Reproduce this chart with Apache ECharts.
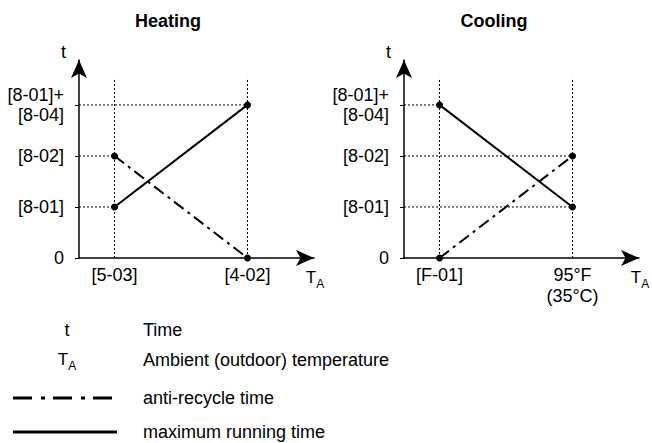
<!DOCTYPE html>
<html>
<head>
<meta charset="utf-8">
<script src="https://cdn.jsdelivr.net/npm/echarts@6/dist/echarts.min.js"></script>
<style>
  html, body { margin: 0; padding: 0; background: #fff; }
  #chart { width: 652px; height: 443px; }
</style>
</head>
<body>
<div id="chart"></div>
<script>
// Ambient temperature set points along each x axis
const heatingTemps = ['[5-03]', '[4-02]'];
const coolingTemps = ['[F-01]', '95°F\n(35°C)'];
// Time levels along the y axis (0, [8-01], [8-02], [8-01]+[8-04])
const timeLabels = ['0', '[8-01]', '[8-02]', '[8-01]+\n[8-04]'];
// Level index reached at each set point
const heatingMaxRunning = [1, 3];
const heatingAntiRecycle = [2, 0];
const coolingMaxRunning = [3, 1];
const coolingAntiRecycle = [0, 2];

const FONT = '"Liberation Sans", Arial, Helvetica, sans-serif';
const INK = '#000';
const FS = 18;
const X_MIN = -0.267, X_MAX = 1.5;
const Y_MAX = 3.88, GUIDE_TOP = 3.53;
const DASH_DOT = [12, 5, 3, 5];
const DOTTED = [2, 2];

// "T" with a subscript "A"
const subscriptRich = {
  T: { fontSize: 17, lineHeight: 16, verticalAlign: 'top', color: INK, fontFamily: FONT },
  A: { fontSize: 12, lineHeight: 21, verticalAlign: 'bottom', color: INK, fontFamily: FONT }
};

function xAxisFor(g, temps) {
  return {
    type: 'value', gridIndex: g, min: X_MIN, max: X_MAX,
    splitLine: { show: false },
    axisLine: { show: true, onZero: false, symbol: ['none', 'arrow'], symbolSize: [12, 18],
      lineStyle: { color: INK, width: 1.5 } },
    axisTick: { show: false },
    axisLabel: {
      customValues: temps.map((_, i) => i),
      formatter: v => temps[Math.round(v)],
      color: INK, fontSize: FS, fontFamily: FONT, margin: 6, lineHeight: 21
    },
    name: '{T|T}{A|A}', nameLocation: 'end', nameGap: 1, nameMoveOverlap: false,
    nameTextStyle: { align: 'center', verticalAlign: 'top', padding: [11, 0, 0, 0], rich: subscriptRich }
  };
}

function yAxisFor(g) {
  return {
    type: 'value', gridIndex: g, min: 0, max: Y_MAX,
    splitLine: { show: false },
    axisLine: { show: true, onZero: false, symbol: ['none', 'arrow'], symbolSize: [12, 18],
      lineStyle: { color: INK, width: 1.5 } },
    axisTick: { show: true, customValues: timeLabels.map((_, i) => i), length: 4,
      lineStyle: { color: INK, width: 1 } },
    axisLabel: {
      customValues: timeLabels.map((_, i) => i),
      formatter: v => timeLabels[Math.round(v)],
      color: INK, fontSize: FS, fontFamily: FONT, margin: 15, lineHeight: 20, align: 'right'
    },
    name: 't', nameLocation: 'end', nameGap: 8, nameMoveOverlap: false,
    nameTextStyle: { color: INK, fontSize: FS, fontFamily: FONT, align: 'right',
      verticalAlign: 'middle', padding: [0, 13, 0, 0] }
  };
}

function guideSeries(g, temps, curves) {
  const segs = [];
  temps.forEach((_, i) => segs.push([[i, 0], [i, GUIDE_TOP]]));
  curves.forEach(vals => vals.forEach((v, i) => {
    if (v > 0) segs.push([[X_MIN, v], [i, v]]);
  }));
  return segs.map(d => ({
    type: 'line', xAxisIndex: g, yAxisIndex: g, data: d, symbol: 'none', silent: true, z: 1,
    lineStyle: { color: INK, width: 1, type: DOTTED }
  }));
}

function curveSeries(g, vals, dash) {
  return {
    type: 'line', xAxisIndex: g, yAxisIndex: g, data: vals.map((v, i) => [i, v]),
    symbol: 'circle', symbolSize: 7, showSymbol: true, silent: true, z: 3,
    itemStyle: { color: INK },
    lineStyle: { color: INK, width: 2, type: dash }
  };
}

const chart = echarts.init(document.getElementById('chart'), null, { renderer: 'svg' });

const keyText = (text, y) => ({
  type: 'text', x: 143, y,
  style: { text, fill: INK, font: FS + 'px ' + FONT, align: 'left', verticalAlign: 'middle' }
});

chart.setOption({
  animation: false,
  backgroundColor: '#fff',
  textStyle: { fontFamily: FONT },
  grid: [
    { left: 79, top: 60, width: 235, height: 198, outerBoundsMode: 'none', containLabel: false },
    { left: 404, top: 60, width: 235, height: 198, outerBoundsMode: 'none', containLabel: false }
  ],
  xAxis: [xAxisFor(0, heatingTemps), xAxisFor(1, coolingTemps)],
  yAxis: [yAxisFor(0), yAxisFor(1)],
  series: [
    ...guideSeries(0, heatingTemps, [heatingMaxRunning, heatingAntiRecycle]),
    ...guideSeries(1, coolingTemps, [coolingMaxRunning, coolingAntiRecycle]),
    curveSeries(0, heatingMaxRunning, 'solid'),
    curveSeries(0, heatingAntiRecycle, DASH_DOT),
    curveSeries(1, coolingMaxRunning, 'solid'),
    curveSeries(1, coolingAntiRecycle, DASH_DOT)
  ],
  graphic: [
    { type: 'text', x: 168, y: 21,
      style: { text: 'Heating', fill: INK, font: 'bold ' + FS + 'px ' + FONT, align: 'center', verticalAlign: 'middle' } },
    { type: 'text', x: 494, y: 21,
      style: { text: 'Cooling', fill: INK, font: 'bold ' + FS + 'px ' + FONT, align: 'center', verticalAlign: 'middle' } },
    // key
    { type: 'text', x: 67, y: 330,
      style: { text: 't', fill: INK, font: FS + 'px ' + FONT, align: 'center', verticalAlign: 'middle' } },
    { type: 'text', x: 67, y: 351,
      style: { text: '{T|T}{A|A}', align: 'center', verticalAlign: 'top',
        rich: {
          T: { fontSize: 17, lineHeight: 16, verticalAlign: 'top', fill: INK, fontFamily: FONT },
          A: { fontSize: 12, lineHeight: 21, verticalAlign: 'bottom', fill: INK, fontFamily: FONT }
        } } },
    { type: 'line', shape: { x1: 13, y1: 398, x2: 117, y2: 398 },
      style: { stroke: INK, lineWidth: 3, lineDash: [19, 9, 4, 8] } },
    { type: 'line', shape: { x1: 13, y1: 432, x2: 117, y2: 432 },
      style: { stroke: INK, lineWidth: 3 } },
    keyText('Time', 330),
    keyText('Ambient (outdoor) temperature', 360),
    keyText('anti-recycle time', 398),
    keyText('maximum running time', 432)
  ]
});
</script>
</body>
</html>
